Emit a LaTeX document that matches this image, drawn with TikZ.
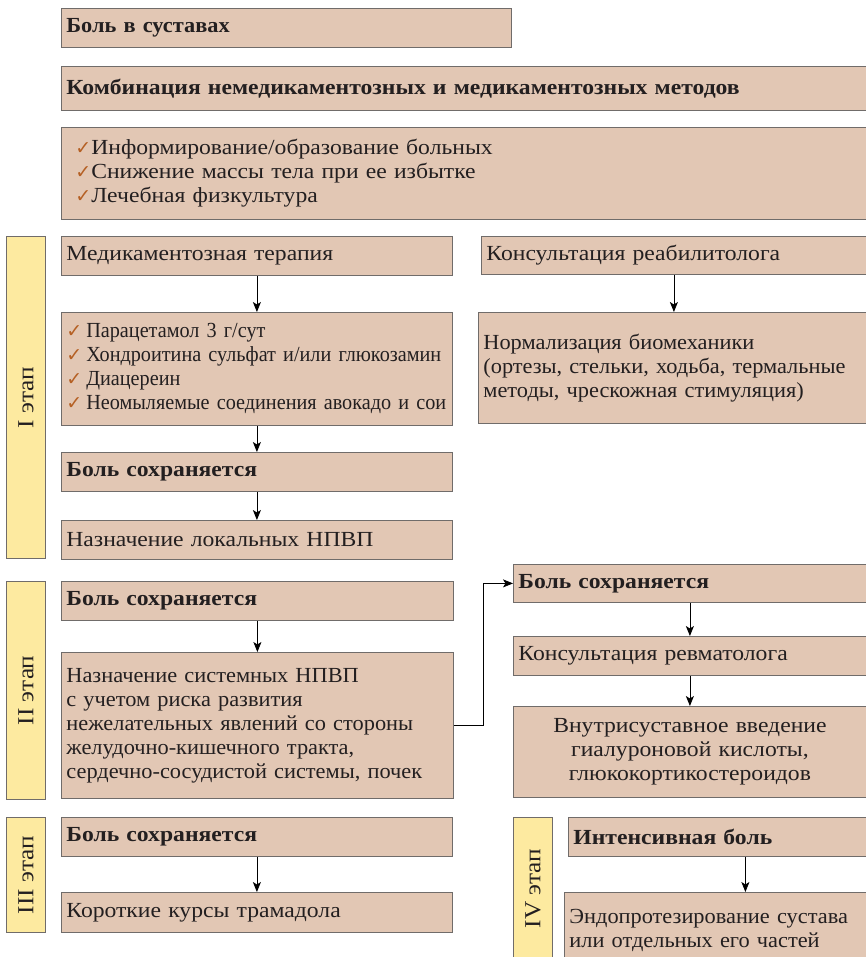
\documentclass[tikz,border=0pt]{standalone}
\usepackage{fontspec}
\setmainfont[FakeStretch=1.1]{Liberation Serif}
\newfontfamily\checkfont{DejaVu Sans}
\newfontfamily\narrowfont[FakeStretch=1.04]{Liberation Serif}
\newfontfamily\condfont[FakeStretch=0.94]{Liberation Serif}
\usetikzlibrary{positioning,arrows.meta}
\definecolor{boxfill}{RGB}{226,199,180}
\definecolor{boxline}{RGB}{112,108,106}
\definecolor{stagefill}{RGB}{253,234,160}
\definecolor{checkcol}{RGB}{181,96,36}
\definecolor{txt}{RGB}{35,31,32}
\newcommand\chk{{\checkfont\color{checkcol}\fontsize{19}{19}\selectfont ✓}\hspace{0pt}}
\newcommand\chkw{{\checkfont\color{checkcol}\fontsize{19}{19}\selectfont ✓}\hspace{4pt}}
\tikzset{
  box/.style={draw=boxline, fill=boxfill, line width=0.8pt, anchor=north west,
    inner xsep=5pt, inner ysep=0pt, align=left, text=txt,
    font=\fontsize{21.5}{24}\selectfont},
  stage/.style={draw=boxline, fill=stagefill, line width=0.8pt, anchor=north west,
    inner sep=0pt, text=txt, font=\fontsize{23}{24}\selectfont,
    minimum width=39pt},
  link/.style={->, line width=0.8pt, black}
}
\begin{document}
\begin{tikzpicture}[x=1pt,y=-1pt,>={Stealth[length=10pt,width=8pt,inset=2.5pt]}]
   \clip (0,0) rectangle (866,957);
   \fill[white] (0,0) rectangle (866,957);

   % верхние блоки
   \node[box, minimum width=450pt, minimum height=39pt, text width=440pt] (pain) at (61,8)
     {\narrowfont\bfseries Боль в суставах};
   \node[box, minimum width=805pt, minimum height=44pt, text width=795pt] (combo) at (61,66)
     {\bfseries Комбинация немедикаментозных и медикаментозных методов};
   \node[box, minimum width=805pt, minimum height=92pt, inner xsep=14pt, text width=777pt] (nondrug) at (61,127)
     {\chk Информирование/образование больных\\
      \chk Снижение массы тела при ее избытке\\
      \chk Лечебная физкультура};

   % I этап
   \node[stage, minimum height=322pt] (stageI) at (6,236) {\rotatebox{90}{I этап}};
   \node[box, minimum width=391pt, minimum height=39pt, text width=381pt] (drug) at (61,236)
     {Медикаментозная терапия};
   \node[box, minimum width=385pt, minimum height=38pt, text width=375pt] (rehab) at (481,236)
     {Консультация реабилитолога};
   \node[box, minimum width=391pt, minimum height=113pt, text width=381pt] (druglist) at (61,312)
     {\condfont
      \chkw Парацетамол 3 г/сут\\
      \chkw Хондроитина сульфат и/или глюкозамин\\
      \chkw Диацереин\\
      \chkw Неомыляемые соединения авокадо и сои};
   \node[box, minimum width=388pt, minimum height=111pt, text width=378pt] (biomech) at (478,312)
     {\narrowfont
      Нормализация биомеханики\\
      (ортезы, стельки, ходьба, термальные\\
      методы, чрескожная стимуляция)};
   \node[box, minimum width=391pt, minimum height=39pt, text width=381pt] (persistI) at (61,452)
     {\bfseries Боль сохраняется};
   \node[box, minimum width=391pt, minimum height=39pt, text width=381pt] (local) at (61,520)
     {Назначение локальных НПВП};

   % II этап
   \node[stage, minimum height=218pt] (stageII) at (6,581) {\rotatebox{90}{II этап}};
   \node[box, minimum width=392pt, minimum height=39pt, text width=382pt] (persistII) at (61,581)
     {\bfseries Боль сохраняется};
   \node[box, minimum width=392pt, minimum height=146pt, text width=382pt] (systemic) at (61,652)
     {\narrowfont
      Назначение системных НПВП\\
      с учетом риска развития\\
      нежелательных явлений со стороны\\
      желудочно-кишечного тракта,\\
      сердечно-сосудистой системы, почек};
   \node[box, minimum width=353pt, minimum height=38pt, text width=343pt] (persistR) at (513,564)
     {\bfseries Боль сохраняется};
   \node[box, minimum width=353pt, minimum height=39pt, text width=343pt] (rheum) at (513,636)
     {Консультация ревматолога};
   \node[box, minimum width=353pt, minimum height=91pt, text width=343pt, align=center] (inject) at (513,706)
     {Внутрисуставное введение\\
      гиалуроновой кислоты,\\
      глюкокортикостероидов};

   % III этап
   \node[stage, minimum height=115pt] (stageIII) at (6,817) {\rotatebox{90}{III этап}};
   \node[box, minimum width=391pt, minimum height=39pt, text width=381pt] (persistIII) at (61,817)
     {\bfseries Боль сохраняется};
   \node[box, minimum width=391pt, minimum height=40pt, text width=381pt] (tramadol) at (61,892)
     {Короткие курсы трамадола};

   % IV этап
   \node[stage, minimum height=142pt] (stageIV) at (513,817) {\rotatebox{90}{IV этап}};
   \node[box, minimum width=298pt, minimum height=39pt, text width=288pt] (severe) at (568,817)
     {\bfseries Интенсивная боль};
   \node[box, minimum width=302pt, minimum height=76pt, text width=292pt] (endo) at (564,892)
     {\narrowfont
      Эндопротезирование сустава\\
      или отдельных его частей};

   % стрелки
   \draw[link] (drug) -- (druglist);
   \draw[link] (rehab.south) -- (rehab.south |- biomech.north);
   \draw[link] (druglist) -- (persistI);
   \draw[link] (persistI) -- (local);
   \draw[link] (persistII) -- (systemic);
   \draw[link] (systemic.east) -| ++(30,0) |- (persistR.west);
   \draw[link] (persistR) -- (rheum);
   \draw[link] (rheum) -- (inject);
   \draw[link] (persistIII) -- (tramadol);
   \draw[link] ([xshift=28pt]severe.south) -- ([xshift=28pt]severe.south |- endo.north);
\end{tikzpicture}
\end{document}
